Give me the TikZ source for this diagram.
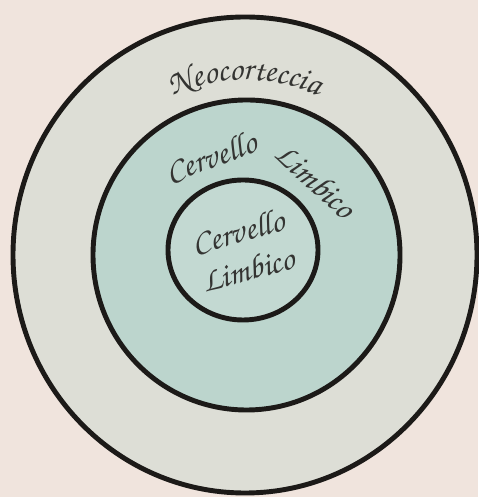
\documentclass[tikz,border=0pt]{standalone}
\usepackage{xcolor}
\usetikzlibrary{shapes.geometric,positioning,decorations.text}

\definecolor{paper}{RGB}{240,228,221}
\definecolor{ringgray}{RGB}{221,222,214}
\definecolor{sage}{RGB}{188,213,205}
\definecolor{ink}{RGB}{28,26,24}
\definecolor{pencil}{RGB}{52,52,50}

\newcommand{\handfont}{\fontencoding{T1}\fontfamily{pzc}\fontseries{mb}\fontshape{it}\fontsize{19}{22}\selectfont}

\begin{document}
\begin{tikzpicture}[
  ring/.style={draw=ink, ellipse, line width=2.8pt, inner sep=0pt},
  handtext/.style={font=\handfont, text=pencil, inner sep=1pt},
  curved/.style={decorate, decoration={text along path, text align=center, text color=pencil, text={|\handfont|#1}}},
]
  % Paper
  \fill[paper] (0,0) rectangle (9.56,9.94);
  \useasboundingbox (0,0) rectangle (9.56,9.94);

  % Rings
  \node[ring, fill=ringgray, minimum width=9.28cm, minimum height=9.52cm] (neo) at (4.90,4.84) {};
  \node[ring, fill=sage, minimum width=6.14cm, minimum height=6.2cm] (limbic) at (4.93,4.84) {};
  \node[ring, fill=sage!90!white, minimum width=3.0cm, minimum height=2.8cm] (core) at (4.86,4.94) {};

  % Labels
  \path[curved=Neocorteccia] ([shift={(125:3.5)}]neo.center) arc[start angle=125, end angle=55, radius=3.5];
  \node[handtext, rotate=20] (limbicA) at ([shift={(110:2.1)}]limbic.center) {Cervello};
  \node[handtext, rotate=-42] (limbicB) at ([shift={(47:2.05)}]limbic.center) {Limbico};
  \node[handtext, align=center, rotate=15] (corelabel) at (core.center) {Cervello\\Limbico};
\end{tikzpicture}
\end{document}
